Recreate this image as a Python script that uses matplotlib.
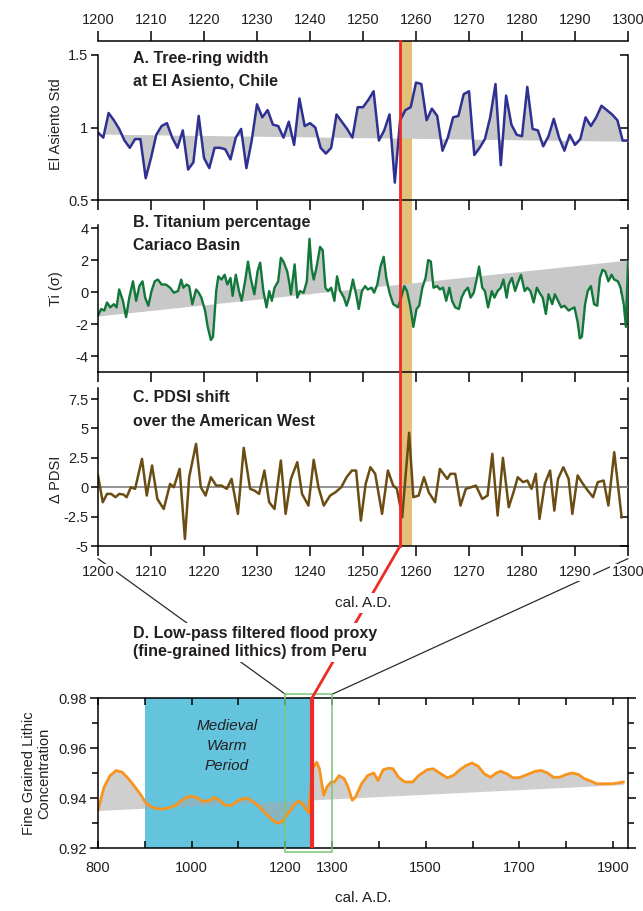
import numpy as np
import matplotlib
matplotlib.use("Agg")
import matplotlib.pyplot as plt
import matplotlib.transforms as mtransforms
from matplotlib.patches import Rectangle, ConnectionPatch
from matplotlib.lines import Line2D

plt.rcParams['font.family'] = ['Liberation Sans', 'DejaVu Sans']
plt.rcParams['axes.unicode_minus'] = False

# ------------------------------------------------------------------ data
tree_years = np.arange(1200, 1301)
tree_vals = [0.965, 0.93, 1.10, 1.05, 0.99, 0.91, 0.86, 0.92, 0.92, 0.65,
             0.79, 0.95, 1.01, 1.03, 0.93, 0.86, 0.98,
             0.71, 0.76, 1.08, 0.79, 0.72, 0.86, 0.86, 0.85, 0.78, 0.93,
             0.99, 0.72, 0.91, 1.16, 1.07, 1.12, 1.02, 1.01, 0.93, 1.04,
             0.88, 1.20, 1.01, 1.03, 1.00, 0.86, 0.82, 0.86, 1.09, 1.04,
             0.99, 0.93, 1.14, 1.14, 1.19, 1.25, 0.91, 0.98, 1.09, 0.62,
             1.05,
             1.12, 1.14, 1.31, 1.30, 1.05, 1.13, 1.08, 0.84, 0.93, 1.07,
             1.08, 1.23, 1.25, 0.81, 0.86, 0.92, 1.07, 1.30, 0.74, 1.22,
             1.02, 0.95, 0.94, 1.28, 0.99, 0.98, 0.87, 0.94, 1.06, 0.93,
             0.84, 0.95, 0.88, 0.92, 1.07, 1.01, 1.07, 1.15, 1.12, 1.09,
             1.05, 0.91, 0.91]
tree_trend_years = [1200, 1300]
tree_trend_vals = [0.955, 0.905]

ti_offsets = [0, 0.6, 1.2, 1.7, 2.3, 3.0, 3.5, 4.0, 4.7, 5.3,
              5.9, 6.6, 7.2, 7.8, 8.4, 8.9, 9.5, 10.1, 10.7, 11.3,
              12.0, 12.8, 13.6, 14.3, 15.1, 15.7, 16.1, 16.7, 17.2, 17.8,
              18.5, 19.0, 19.5, 20.2, 20.7, 21.3, 21.7, 22.3, 22.7, 23.3,
              23.9, 24.4, 25.0, 25.4, 26.0, 26.6, 27.1, 27.8, 28.3, 28.8,
              29.5, 30.1, 30.6, 31.2, 31.8, 32.3, 32.8, 33.3, 34.0, 34.5,
              35.0, 35.7, 36.1, 36.4, 37.1, 37.6, 38.1, 38.8, 39.4, 39.9,
              40.3, 40.7, 41.2, 41.9, 42.4, 42.9, 43.4, 44.0, 44.6, 45.1,
              45.7, 46.4, 46.9, 47.4, 48.1, 48.7, 49.2, 49.8, 50.4, 50.9,
              51.6, 52.1, 52.7, 53.3, 53.9, 54.4, 55.0, 55.7, 56.2, 56.6,
              57.2, 57.8, 58.3, 58.9, 59.5, 60.1, 60.6, 61.2, 61.8, 62.3,
              62.8, 63.3, 64.0, 64.5, 65.1, 65.7, 66.3, 66.8, 67.4, 68.1,
              68.6, 69.2, 69.8, 70.3, 70.9, 71.5, 71.9, 72.5, 73.0, 73.6,
              74.3, 74.8, 75.4, 76.0, 76.5, 77.1, 77.5, 78.1, 78.7, 79.2,
              79.8, 80.5, 81.0, 81.6, 82.2, 82.8, 83.3, 83.9, 84.5, 85.0,
              85.7, 86.2, 86.8, 87.4, 88.0, 88.8, 89.3, 89.9, 90.5, 90.9,
              91.3, 91.9, 92.4, 93.0, 93.6, 94.2, 94.7, 95.2, 95.7, 96.3,
              96.9, 97.4, 98.1, 98.6, 99.2, 99.6, 100.0]
ti_vals = [-1.47, -1.06, -1.16, -0.65, -0.96, -0.76, -0.96, 0.16, -0.55, -1.57,
           -0.35, 0.67, -0.55, 0.37, 0.67, -0.35, -0.86, 0.06, 0.67, 0.78,
           0.47, 0.47, 0.27, -0.04, 0.06, 0.78, 0.27, 0.47, 0.37, -0.76,
           0.16, -0.04, -0.35, -1.16, -2.18, -3.0, -2.8, 0.06, 0.98, 0.78,
           1.08, 0.47, 0.88, -0.24, 1.08, 0.06, -0.55, 0.78, 1.9, 0.88,
           -0.14, 1.29, 1.84, 0.06, -0.96, 0.06, -0.55, 0.27, 0.67, 2.14,
           1.9, 1.29, 0.57, -0.14, 1.73, -0.35, 0.06, -0.04, 0.67, 3.33,
           1.49, 0.78, 1.49, 2.82, 2.61, 0.27, 0.06, 0.27, -0.55, 0.98,
           0.06, -0.35, -0.86, -0.35, 0.78, -0.14, -1.06, 0.06, 0.37, 0.16,
           0.27, -0.04, 0.47, 1.59, 2.2, 0.88, -0.04, -0.76, -0.86, -0.96,
           -0.35, 0.37, 0.06, -0.86, -2.18, -1.06, -0.86, 0.27, 0.88, 2.0,
           1.9, 0.27, 0.37, 0.16, 0.27, -0.55, 0.27, -0.55, -0.96, -1.06,
           -0.35, 0.06, 0.27, -0.35, -0.04, 0.88, 1.59, 0.27, 0.06, -0.96,
           0.06, -0.35, 0.06, 0.27, 0.78, -0.35, 0.47, 0.88, 0.06, 0.57,
           1.08, 0.06, 0.27, 0.06, -0.65, 0.27, -0.04, -0.35, -1.37, -0.14,
           -0.76, -0.14, -0.55, -0.96, -0.86, -1.16, -1.06, -0.96, -1.88, -2.9,
           -2.8, -0.76, 0.06, 0.37, -0.76, -0.86, 0.88, 1.39, 1.29, 0.67,
           1.08, 0.78, 0.67, 0.27, -0.76, -2.18, 1.9]
ti_trend_years = [1200, 1300]
ti_trend_vals = [-1.5, 2.0]

pdsi_offsets = [0, 0.9, 1.7, 2.5, 3.3, 4.0, 4.8, 5.4, 6.2, 7.0,
                8.3, 9.2, 10.2, 11.2, 12.4, 13.6, 14.3, 15.4, 16.4, 17.2,
                18.5, 19.4, 20.3, 21.3, 22.3, 23.3, 24.3, 25.2, 26.4, 27.5,
                28.7, 29.5, 30.4, 31.4, 32.3, 33.3, 34.5, 35.4, 36.4, 37.6,
                38.5, 39.7, 40.7, 41.6, 42.6, 43.8, 44.8, 45.9, 46.9, 47.9,
                48.7, 49.6, 50.5, 51.4, 52.3, 53.6, 54.7, 55.7, 56.4, 57.4,
                58.7, 59.5, 60.5, 61.5, 62.4, 63.6, 64.5, 65.4, 65.9, 66.5,
                67.4, 68.4, 69.4, 70.4, 71.3, 72.5, 73.5, 74.4, 75.4, 76.4,
                77.5, 78.5, 79.2, 80.2, 81.0, 81.8, 82.6, 83.3, 84.3, 85.3,
                86.1, 86.8, 87.8, 88.8, 89.5, 90.5, 91.5, 92.4, 93.4, 94.3,
                95.4, 96.3, 97.4, 98.8]
pdsi_vals = [1.0, -1.28, -0.57, -0.57, -0.85, -0.57, -0.62, -0.85, 0.0, -0.14,
             2.41, -0.71, 1.85, -1.0, -1.85, 0.28, 0.0, 1.56, -4.4, 0.85,
             3.69, 0.0, -0.71, 0.85, 0.14, 0.14, -0.14, 0.71, -2.27, 3.35,
             -0.14, -0.28, -0.57, 1.42, -1.28, -1.85, 2.27, -2.27, 0.71, 2.13,
             -0.57, -1.56, 2.33, 0.0, -1.56, -0.71, -0.43, 0.0, 0.85, 1.42,
             1.42, -2.84, 0.28, 1.7, 1.14, -2.27, 1.42, 0.14, -0.14, -2.56,
             4.63, -0.85, -0.71, 0.85, -0.43, -1.28, 1.56, 1.0, 0.71, 1.14,
             1.14, -1.56, -0.14, 0.0, 0.14, -1.0, -0.71, 2.84, -2.41, 2.5,
             -1.7, -0.28, 0.85, 0.43, 0.57, -0.14, 1.14, -2.7, 0.28, 1.42,
             -1.99, 0.71, 1.7, 0.71, -2.27, 1.0, 0.28, -0.28, -0.85, 0.43,
             0.57, -1.56, 2.98, -2.56]

flood_years = [800, 813, 826, 839, 852, 865, 879, 892, 903, 918,
               935, 953, 966, 979, 994, 1008, 1023, 1036, 1049, 1062,
               1071, 1086, 1101, 1119, 1132, 1145, 1158, 1174, 1184, 1193,
               1206, 1219, 1228, 1236, 1243, 1250, 1258, 1267, 1273, 1282,
               1289, 1298, 1305, 1315, 1326, 1334, 1343, 1350, 1363, 1376,
               1389, 1398, 1409, 1420, 1430, 1442, 1455, 1472, 1485, 1503,
               1516, 1532, 1546, 1559, 1573, 1586, 1599, 1612, 1625, 1638,
               1651, 1660, 1673, 1686, 1699, 1717, 1734, 1747, 1760, 1773,
               1786, 1800, 1813, 1826, 1839, 1852, 1865, 1878, 1891, 1900,
               1922]
flood_vals = [0.9352, 0.9444, 0.9490, 0.9510, 0.9503, 0.9477, 0.9444, 0.9411, 0.9378, 0.9361,
              0.9355, 0.9361, 0.9371, 0.9391, 0.9407, 0.9404, 0.9388, 0.9388, 0.9402, 0.9388,
              0.9371, 0.9371, 0.9393, 0.9400, 0.9384, 0.9364, 0.9338, 0.9309, 0.9299, 0.9305,
              0.9338, 0.9371, 0.9388, 0.9378, 0.9358, 0.9341, 0.9517, 0.9543, 0.9517, 0.9411,
              0.9444, 0.9464, 0.9464, 0.9490, 0.9477, 0.9444, 0.9391, 0.9404, 0.9457, 0.9490,
              0.9500, 0.9470, 0.9513, 0.9519, 0.9517, 0.9483, 0.9464, 0.9464, 0.9490, 0.9513,
              0.9517, 0.9497, 0.9481, 0.9490, 0.9513, 0.9530, 0.9540, 0.9527, 0.9497, 0.9483,
              0.9500, 0.9507, 0.9497, 0.9481, 0.9481, 0.9494, 0.9507, 0.9510, 0.9500, 0.9483,
              0.9483, 0.9494, 0.9500, 0.9494, 0.9477, 0.9468, 0.9457, 0.9457, 0.9457, 0.9457,
              0.9464]
flood_trend_years = [800, 1932]
flood_trend_vals = [0.935, 0.9455]

eruption_year = 1257
band_years = (1257, 1259.3)
mwp_years = (900, 1257)
window_years = (1200, 1300)

abc_xticks = list(range(1200, 1301, 10))
d_xticks = list(range(800, 1901, 100))
d_xlabels = ['800', '', '1000', '', '1200', '1300', '', '1500', '', '1700', '', '1900']

# ------------------------------------------------------------------ figure
W, H = 643, 911
fig = plt.figure(figsize=(W / 100, H / 100), dpi=100)
fig.patch.set_facecolor('white')


def yf(py):
    return 1 - py / H


def add_ax(l, t, r, b):
    return fig.add_axes([l / W, 1 - b / H, (r - l) / W, (b - t) / H])


L, R = 98, 628
axA = add_ax(L, 55, R, 200)
axB = add_ax(L, 225, R, 372)
axC = add_ax(L, 388, R, 546)
axD = add_ax(L, 698, R, 848)

TXT = '#231f20'
LW = 1.1
GRAY = '#c8c8c8'

ylims = {axA: (0.5, 1.5), axB: (-5, 4.19), axC: (-5, 8.44)}
yticks = {axA: [0.5, 1, 1.5], axB: [-4, -2, 0, 2, 4], axC: [-5, -2.5, 0, 2.5, 5, 7.5]}
ylabels_txt = {axA: ['0.5', '1', '1.5'], axB: ['-4', '-2', '0', '2', '4'],
               axC: ['-5', '-2.5', '0', '2.5', '5', '7.5']}

for ax in (axA, axB, axC):
    ax.set_facecolor('none')
    ax.set_xlim(*window_years)
    ax.set_ylim(*ylims[ax])
    ax.spines['top'].set_visible(False)
    ax.spines['right'].set_visible(False)
    for s in ('left', 'bottom'):
        ax.spines[s].set_linewidth(LW)
    ax.set_xticks(abc_xticks)
    ax.tick_params(axis='x', direction='out', length=7, width=LW, labelbottom=False,
                   labelsize=10.5, labelcolor=TXT)
    ax.set_yticks(yticks[ax])
    ax.set_yticklabels(ylabels_txt[ax])
    ax.tick_params(axis='y', direction='out', length=5, width=LW, labelsize=10.5,
                   labelcolor=TXT, pad=2)
    sec = ax.secondary_yaxis('right')
    sec.set_ticks(yticks[ax])
    sec.tick_params(direction='in', length=6, width=LW, labelright=False)
    sec.spines['right'].set_linewidth(LW)

# top axis on A
axA.spines['top'].set_visible(True)
axA.spines['top'].set_linewidth(LW)
axA.spines['top'].set_position(('outward', 10))
axA.xaxis.set_ticks_position('both')
axA.tick_params(axis='x', labeltop=True, labelbottom=False, pad=3)

# bottom labels on C
axC.tick_params(axis='x', labelbottom=True, pad=7)

# ---- panel A
tt = np.interp(tree_years, tree_trend_years, tree_trend_vals)
axA.fill_between(tree_years, tree_vals, tt, color=GRAY, lw=0, zorder=1)
axA.plot(tree_years, tree_vals, color='#2e3192', lw=1.8, zorder=2)
axA.set_ylabel('El Asiento Std', fontsize=10.5, color=TXT)
axA.yaxis.set_label_coords(-0.066, 0.52)

# ---- panel B
ti_years = 1200 + np.array(ti_offsets)
tb = np.interp(ti_years, ti_trend_years, ti_trend_vals)
axB.fill_between(ti_years, ti_vals, tb, color=GRAY, lw=0, zorder=1)
axB.plot(ti_years, ti_vals, color='#11783a', lw=1.7, zorder=2)
axB.set_ylabel('Ti (σ)', fontsize=10.5, color=TXT)
axB.yaxis.set_label_coords(-0.066, 0.57)

# ---- panel C
pdsi_years = 1200 + np.array(pdsi_offsets)
axC.axhline(0, color='#8a8a8a', lw=1.3, zorder=1)
axC.plot(pdsi_years, pdsi_vals, color='#6b4d14', lw=1.8, zorder=2)
axC.set_ylabel('Δ PDSI', fontsize=10.5, color=TXT)
axC.yaxis.set_label_coords(-0.066, 0.42)

# ---- panel D
axD.set_xlim(800, 1932)
axD.set_ylim(0.92, 0.98)
for s in axD.spines.values():
    s.set_linewidth(LW)
axD.axvspan(*mwp_years, color='#64c4de', lw=0, zorder=0)
fb = np.interp(flood_years, flood_trend_years, flood_trend_vals)
axD.fill_between(flood_years, flood_vals, fb, color='#a9a9a9', alpha=0.55, lw=0, zorder=1)
axD.plot(flood_years, flood_vals, color='#f7941d', lw=2, zorder=2)
axD.axvline(eruption_year, color='#ee2b24', lw=3, zorder=3)
axD.set_xticks(d_xticks)
axD.set_xticklabels(d_xlabels)
axD.tick_params(axis='x', direction='in', top=True, bottom=True, length=5, width=LW,
                labelsize=10.5, labelcolor=TXT, pad=9)
axD.set_yticks([0.92, 0.94, 0.96, 0.98])
axD.set_yticklabels(['0.92', '0.94', '0.96', '0.98'])
axD.set_yticks([0.93, 0.95, 0.97], minor=True)
axD.tick_params(axis='y', which='both', direction='out', left=True, right=True,
                width=LW, labelsize=10.5, labelcolor=TXT, pad=2)
axD.tick_params(axis='y', which='major', length=6)
axD.tick_params(axis='y', which='minor', length=4)
axD.set_ylabel('Fine Grained Lithic\nConcentration', fontsize=10.5, color=TXT, linespacing=1.1)
axD.yaxis.set_label_coords(-0.088, 0.5)
axD.text(1075, 0.9608, 'Medieval\nWarm\nPeriod', ha='center', va='center',
         fontsize=11, style='italic', color=TXT, linespacing=1.55)
axD.add_patch(Rectangle((window_years[0], 0.9185), window_years[1] - window_years[0], 0.063,
                        fill=False, edgecolor='#7cc576', lw=1.1, clip_on=False, zorder=5))

# ---- cross-panel marks
blend = mtransforms.blended_transform_factory(axA.transData, fig.transFigure)
fig.add_artist(Rectangle((band_years[0], yf(546)), band_years[1] - band_years[0],
                         yf(41) - yf(546), transform=blend, facecolor='#e2c078',
                         edgecolor='none', zorder=-1))
fig.add_artist(Line2D([eruption_year, eruption_year], [yf(41), yf(546)], transform=blend,
                      color='#ee2b24', lw=2, zorder=3))
fig.add_artist(ConnectionPatch(xyA=(eruption_year, -5), coordsA=axC.transData,
                               xyB=(eruption_year, 0.98), coordsB=axD.transData,
                               color='#ee2b24', lw=2, zorder=3))
for xa, xb in ((0, window_years[0]), (1, window_years[1])):
    fig.add_artist(ConnectionPatch(xyA=(xa, -0.08), coordsA=axC.transAxes,
                                   xyB=(xb, 0.9815), coordsB=axD.transData,
                                   color='#2b2b2b', lw=0.9, zorder=-1))

for lbl in axC.get_xticklabels():
    lbl.set_bbox(dict(facecolor='white', edgecolor='none', pad=1.0))

# ---- texts
TFS = 11.5
fig.text(133 / W, yf(59), 'A. Tree-ring width', fontsize=TFS, weight='bold', color=TXT, va='center')
fig.text(133 / W, yf(81), 'at El Asiento, Chile', fontsize=TFS, weight='bold', color=TXT, va='center')
fig.text(133 / W, yf(223), 'B. Titanium percentage', fontsize=TFS, weight='bold', color=TXT, va='center')
fig.text(133 / W, yf(245), 'Cariaco Basin', fontsize=TFS, weight='bold', color=TXT, va='center')
fig.text(133 / W, yf(398), 'C. PDSI shift', fontsize=TFS, weight='bold', color=TXT, va='center')
fig.text(133 / W, yf(421), 'over the American West', fontsize=TFS, weight='bold', color=TXT, va='center')

fig.text(363 / W, yf(603), 'cal. A.D.', fontsize=11, color=TXT, ha='center', va='center',
         zorder=4, bbox=dict(facecolor='white', edgecolor='none', pad=2))
fig.text(133 / W, yf(642.5), 'D. Low-pass filtered flood proxy\n(fine-grained lithics) from Peru',
         fontsize=TFS, weight='bold', color=TXT, ha='left', va='center', linespacing=1.25,
         zorder=4, bbox=dict(facecolor='white', edgecolor='none', pad=2))
fig.text(363 / W, yf(898), 'cal. A.D.', fontsize=11, color=TXT, ha='center', va='center')

fig.savefig('out.png', dpi=100)
